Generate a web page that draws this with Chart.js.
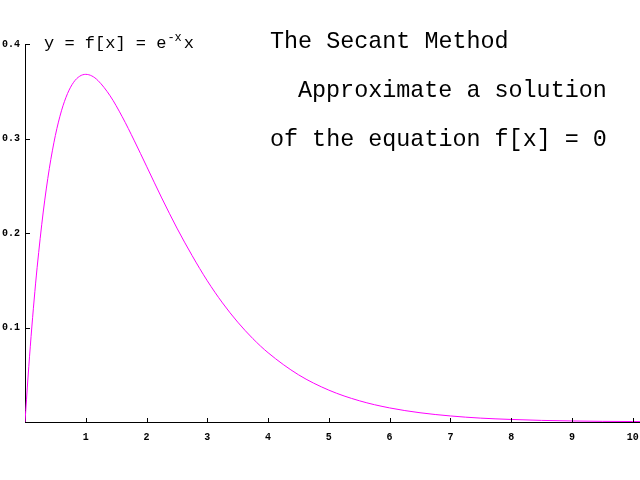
<!DOCTYPE html>
<html>
<head>
<meta charset="utf-8">
<script src="https://cdn.jsdelivr.net/npm/chart.js@4"></script>
<style>
html,body{margin:0;padding:0;background:#fff;}
#wrap{position:relative;width:640px;height:480px;}
</style>
</head>
<body>
<div id="wrap"><canvas id="c" width="640" height="480"></canvas></div>
<script>
const xValues = [0,0.05,0.1,0.15,0.2,0.3,0.4,0.5,0.6,0.7,0.8,0.9,1.0,1.1,1.2,1.4,1.6,1.8,2.0,2.25,2.5,2.75,3.0,3.25,3.5,3.75,4.0,4.5,5.0,5.5,6.0,6.5,7.0,7.5,8.0,8.5,9.0,9.5,10.0,10.12];
const yValues = [0,0.0476,0.0905,0.1291,0.1637,0.2222,0.2681,0.3033,0.3293,0.3476,0.3595,0.3659,0.3679,0.3662,0.3614,0.3452,0.3230,0.2975,0.2707,0.2371,0.2052,0.1761,0.1494,0.1260,0.1057,0.0882,0.0733,0.0500,0.0337,0.0225,0.0149,0.0098,0.0064,0.0041,0.0027,0.0017,0.0011,0.0007,0.0005,0.0004];
const xTicks = [1,2,3,4,5,6,7,8,9,10];
const yTicks = [0.1,0.2,0.3,0.4];
const titleLines = ["The Secant Method", "Approximate a solution", "of the equation f[x] = 0"];
const formulaMain = "y = f[x] = e";
const formulaSup = "-x";
const formulaTail = "x";

const points = xValues.map((x, i) => ({x: x, y: yValues[i]}));

const tickFont = {family: "'Liberation Mono', 'DejaVu Sans Mono', monospace", size: 10, weight: 'bold'};

const innerTicks = {
  id: 'innerTicks',
  afterDatasetsDraw(chart) {
    const ctx = chart.ctx;
    const xs = chart.scales.x, ys = chart.scales.y;
    const area = chart.chartArea;
    ctx.save();
    ctx.strokeStyle = '#000';
    ctx.lineWidth = 1;
    ctx.beginPath();
    xTicks.forEach(v => {
      const px = Math.round(xs.getPixelForValue(v)) + 0.5;
      ctx.moveTo(px, area.bottom);
      ctx.lineTo(px, area.bottom - 4);
    });
    yTicks.forEach(v => {
      const py = Math.round(ys.getPixelForValue(v)) + 0.5;
      ctx.moveTo(area.left, py);
      ctx.lineTo(area.left + 5, py);
    });
    ctx.stroke();
    ctx.restore();
  },
  afterDraw(chart) {
    const ctx = chart.ctx;
    ctx.save();
    ctx.fillStyle = '#000';
    ctx.textBaseline = 'alphabetic';
    ctx.textAlign = 'left';
    ctx.font = "23.4px 'Liberation Mono', monospace";
    ctx.fillText(titleLines[0], 270, 48);
    ctx.fillText(titleLines[1], 298, 97);
    ctx.fillText(titleLines[2], 270, 146);
    ctx.font = "17px 'Liberation Mono', monospace";
    let x = 44;
    ctx.fillText(formulaMain, x, 48);
    x += ctx.measureText(formulaMain).width + 1;
    ctx.font = "12px 'Liberation Mono', monospace";
    ctx.fillText(formulaSup, x, 41);
    x += ctx.measureText(formulaSup).width + 2;
    ctx.font = "17px 'Liberation Mono', monospace";
    ctx.fillText(formulaTail, x, 48);
    ctx.restore();
  }
};

new Chart(document.getElementById('c'), {
  type: 'scatter',
  data: {
    datasets: [{
      data: points,
      showLine: true,
      borderColor: '#ff00ff',
      backgroundColor: '#ff00ff',
      borderWidth: 1,
      pointRadius: 0,
      cubicInterpolationMode: 'monotone',
      fill: false
    }]
  },
  options: {
    responsive: false,
    animation: false,
    devicePixelRatio: 1,
    layout: {padding: {top: 44, right: 0, left: 0, bottom: 0}},
    plugins: {legend: {display: false}, tooltip: {enabled: false}, title: {display: false}},
    scales: {
      x: {
        type: 'linear',
        min: 0,
        max: 10.12,
        afterFit(s) { s.height = 58; s.paddingRight = 0; s.paddingLeft = 0; },
        grid: {display: false, drawTicks: false},
        border: {display: true, color: '#000', width: 1},
        ticks: {
          stepSize: 1,
          includeBounds: false,
          autoSkip: false,
          maxRotation: 0,
          padding: 9,
          color: '#000',
          font: tickFont,
          callback: v => (v === 0 ? '' : String(v))
        }
      },
      y: {
        type: 'linear',
        min: 0,
        max: 0.4,
        afterFit(s) { s.width = 25; s.paddingTop = 0; s.paddingBottom = 0; },
        grid: {display: false, drawTicks: false},
        border: {display: true, color: '#000', width: 1},
        ticks: {
          stepSize: 0.1,
          includeBounds: false,
          autoSkip: false,
          padding: 5,
          color: '#000',
          font: tickFont,
          callback: v => (Math.abs(v) < 1e-9 ? '' : v.toFixed(1))
        }
      }
    }
  },
  plugins: [innerTicks]
});
</script>
</body>
</html>
